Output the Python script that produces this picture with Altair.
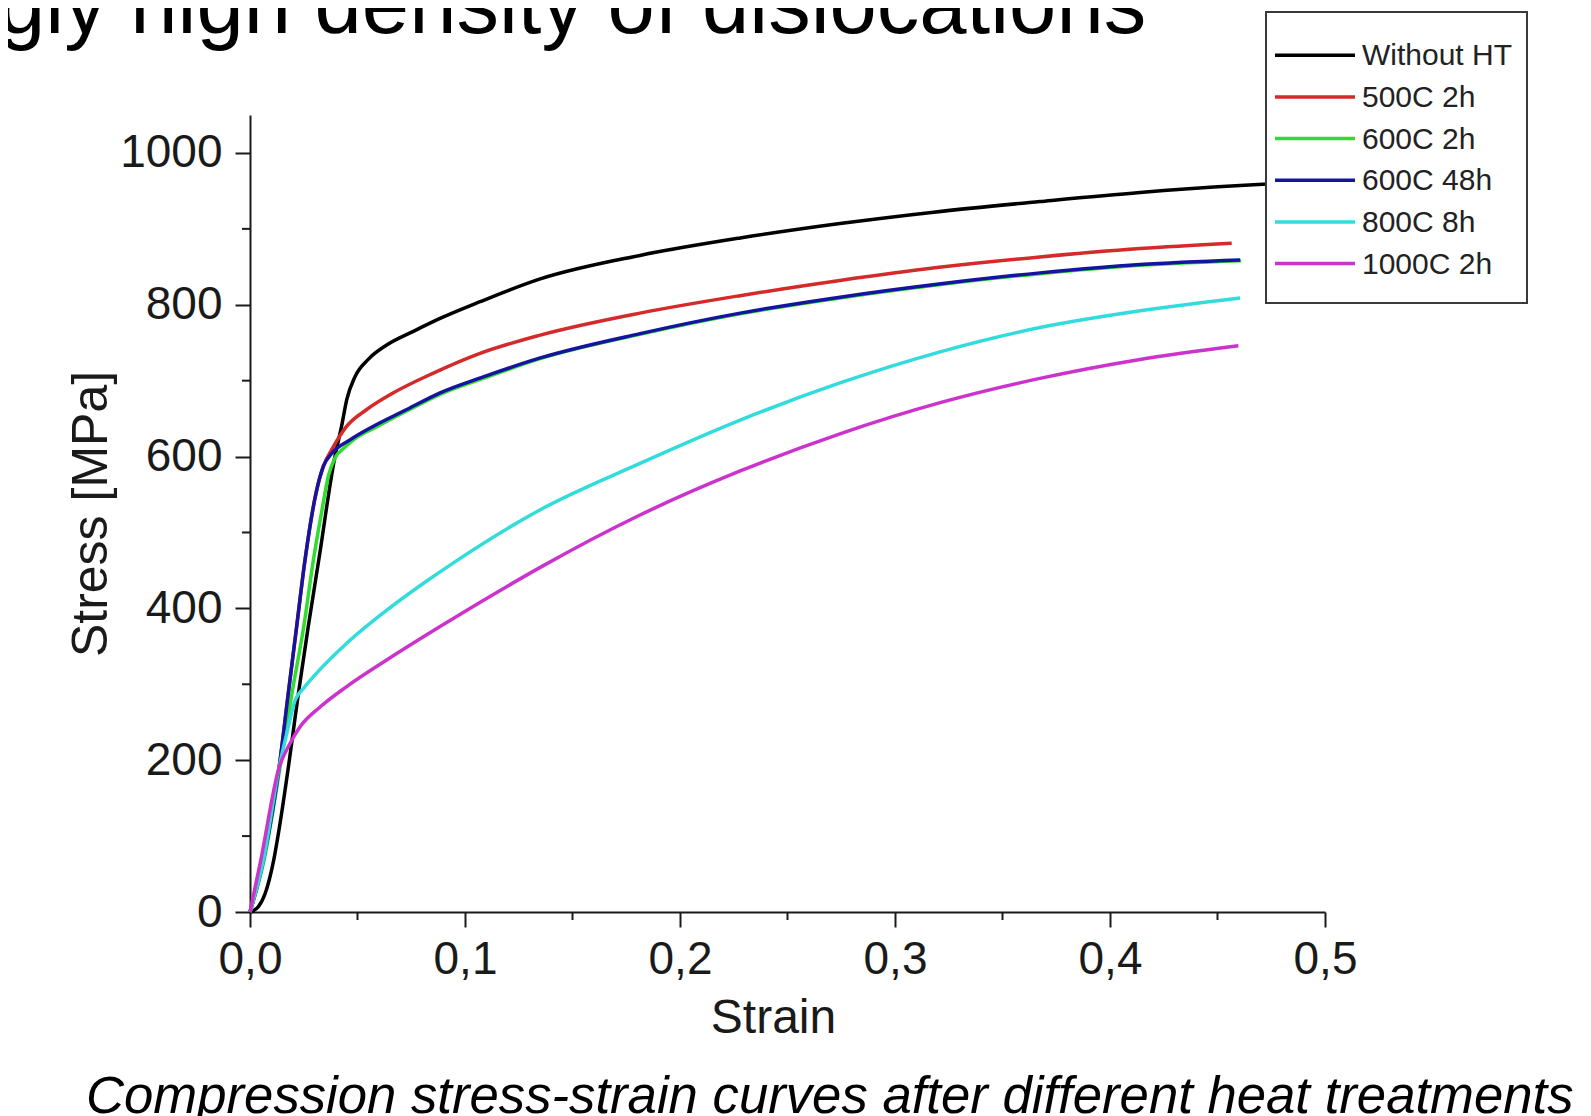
import altair as alt
import pandas as pd

# ---------------- data ----------------
series_names = ["Without HT", "500C 2h", "600C 2h", "600C 48h", "800C 8h", "1000C 2h"]
series_colors = ["#000000", "#d42a2a", "#2fdc2f", "#1414a0", "#33dcdc", "#cc33cc"]

strain_wo = [0, 0.0039, 0.007, 0.011, 0.0137, 0.0183, 0.0225, 0.0271, 0.032, 0.0395, 0.0426, 0.045,
             0.0488, 0.055, 0.0636, 0.076, 0.0884, 0.107, 0.135, 0.1814, 0.228, 0.2744, 0.318,
             0.3674, 0.414, 0.4605, 0.48]
stress_wo = [0, 7, 24, 68, 112, 200, 288, 376, 464, 600, 640, 675,
             705, 728, 747, 765, 782, 804, 834, 865, 888, 907, 922,
             936, 948, 957, 960]

strain_500 = [0, 0.0062, 0.014, 0.0178, 0.0217, 0.0256, 0.0307, 0.0341, 0.0388, 0.045, 0.0543,
              0.0667, 0.0853, 0.107, 0.135, 0.1814, 0.228, 0.2744, 0.3195, 0.3674, 0.414, 0.4566]
stress_500 = [0, 68, 200, 288, 376, 464, 552, 587, 613, 640, 662,
              684, 710, 736, 760, 789, 812, 832, 849, 863, 874, 881]

strain_600_2 = [0, 0.0065, 0.0145, 0.0195, 0.025, 0.0295, 0.0335, 0.0365, 0.0395, 0.044, 0.05,
                0.0574, 0.0729, 0.0884, 0.1085, 0.135, 0.1814, 0.228, 0.2744, 0.3195, 0.3674,
                0.414, 0.461]
stress_600_2 = [0, 68, 200, 288, 376, 464, 530, 575, 598, 612, 626,
                637, 660, 682, 703, 729, 761, 788, 809, 826, 841,
                852, 858]

strain_600_48 = [0, 0.0062, 0.014, 0.0178, 0.0217, 0.0256, 0.0307, 0.0341, 0.038, 0.0465, 0.0574,
                 0.0729, 0.0884, 0.1085, 0.135, 0.1814, 0.228, 0.2744, 0.3195, 0.3674, 0.414, 0.4605]
stress_600_48 = [0, 68, 200, 288, 376, 464, 552, 587, 604, 622, 640,
                 662, 684, 705, 730, 762, 789, 810, 827, 842, 853, 859]

strain_800 = [0, 0.0062, 0.0135, 0.0175, 0.021, 0.025, 0.0295, 0.045, 0.062, 0.0822, 0.0946,
              0.135, 0.1814, 0.228, 0.2744, 0.321, 0.3674, 0.414, 0.4605]
stress_800 = [0, 68, 190, 240, 279, 295, 310, 354, 394, 436, 460,
              530, 591, 648, 697, 738, 770, 792, 809]

strain_1000 = [0, 0.005, 0.0135, 0.0186, 0.0233, 0.0326, 0.045, 0.0636, 0.0884, 0.113, 0.135,
               0.1814, 0.228, 0.2744, 0.321, 0.3674, 0.414, 0.4597]
stress_1000 = [0, 68, 190, 222, 244, 270, 297, 332, 376, 418, 454,
               523, 581, 630, 671, 703, 728, 746]

all_strain = [strain_wo, strain_500, strain_600_2, strain_600_48, strain_800, strain_1000]
all_stress = [stress_wo, stress_500, stress_600_2, stress_600_48, stress_800, stress_1000]

x_major = [0, 0.1, 0.2, 0.3, 0.4, 0.5]
x_minor = [0.05, 0.15, 0.25, 0.35, 0.45]
y_major = [0, 200, 400, 600, 800, 1000]
y_minor = [100, 300, 500, 700, 900]

title_text = "gly high density of dislocations"
caption_text = "Compression stress-strain curves after different heat treatments"

FONT = "Liberation Sans"
INK = "#1a1a1a"

# ---------------- scales / axes ----------------
xscale = alt.Scale(domain=[0, 0.5], nice=False, zero=False)
yscale = alt.Scale(domain=[0, 1050], nice=False, zero=False)

x_axis = alt.Axis(
    values=x_major,
    labelExpr="replace(format(datum.value, '.1f'), '.', ',')",
    tickSize=15, tickWidth=2, tickColor=INK, domainWidth=2, domainColor=INK,
    labelFont=FONT, labelFontSize=46, labelColor=INK, labelPadding=10,
    labelOverlap=False, labelFlush=False, grid=False,
    title="Strain", titleFont=FONT, titleFontSize=48, titleFontWeight="normal",
    titleColor=INK, titlePadding=12, titleX=523,
)
y_axis = alt.Axis(
    values=y_major, format="d",
    tickSize=15, tickWidth=2, tickColor=INK, domainWidth=2, domainColor=INK,
    labelFont=FONT, labelFontSize=46, labelColor=INK, labelPadding=13,
    labelOverlap=False, labelFlush=False, grid=False,
    title="Stress [MPa]", titleFont=FONT, titleFontSize=50, titleFontWeight="normal",
    titleColor=INK, titlePadding=3,
)


def xenc(field):
    return alt.X(field, type="quantitative", scale=xscale, axis=x_axis)


def yenc(field):
    return alt.Y(field, type="quantitative", scale=yscale, axis=y_axis)


layers = []
for name, col, xs, ys in zip(series_names, series_colors, all_strain, all_stress):
    df = pd.DataFrame({"strain": xs, "stress": ys, "series": name})
    layers.append(
        alt.Chart(df).mark_line(color=col, strokeWidth=3.5, interpolate="monotone").encode(
            x=xenc("strain"), y=yenc("stress"), order=alt.Order("strain:Q"),
        )
    )

# minor ticks (placed through the shared scales)
layers.append(
    alt.Chart(pd.DataFrame({"strain": x_minor})).mark_rule(color=INK, strokeWidth=2).encode(
        x=xenc("strain"), y=alt.value(797), y2=alt.value(805),
    )
)
layers.append(
    alt.Chart(pd.DataFrame({"stress": y_minor})).mark_rule(color=INK, strokeWidth=2).encode(
        y=yenc("stress"), x=alt.value(-8), x2=alt.value(0),
    )
)

# ---------------- legend (manual, box style) ----------------
one = pd.DataFrame({"k": [0]})
legend_box = alt.Chart(one).mark_rect(
    fill="white", stroke="#3a3a3a", strokeWidth=2
).encode(x=alt.value(1016), x2=alt.value(1277), y=alt.value(-103), y2=alt.value(188))
layers.append(legend_box)

row0 = -59.7
row_step = 41.65
for i, (name, col) in enumerate(zip(series_names, series_colors)):
    dfl = pd.DataFrame({"series": [name]})
    yy = row0 + i * row_step
    layers.append(
        alt.Chart(dfl).mark_rule(color=col, strokeWidth=3.5).encode(
            x=alt.value(1025), x2=alt.value(1105), y=alt.value(yy)
        )
    )
    layers.append(
        alt.Chart(dfl).mark_text(
            align="left", baseline="middle", font=FONT, fontSize=30, color="#222222"
        ).encode(x=alt.value(1112), y=alt.value(yy + 1), text="series:N")
    )

# ---------------- slide texts ----------------
layers.append(
    alt.Chart(pd.DataFrame({"t": [title_text]})).mark_text(
        align="left", baseline="alphabetic", font=FONT, fontSize=85, color="#000000"
    ).encode(x=alt.value(-252), y=alt.value(-82), text="t:N")
)
layers.append(
    alt.Chart(pd.DataFrame({"t": [caption_text]})).mark_text(
        align="left", baseline="alphabetic", font=FONT, fontSize=52.7, fontStyle="italic",
        color="#000000"
    ).encode(x=alt.value(-164), y=alt.value(998), text="t:N")
)

chart = alt.layer(*layers).properties(
    width=1075,
    height=797,
    padding={"left": 242, "top": 107, "right": 258, "bottom": 204},
    autosize=alt.AutoSizeParams(type="none"),
    background="white",
).configure_view(stroke=None)

chart.save("out.html", embed_options={"renderer": "svg", "actions": False})
